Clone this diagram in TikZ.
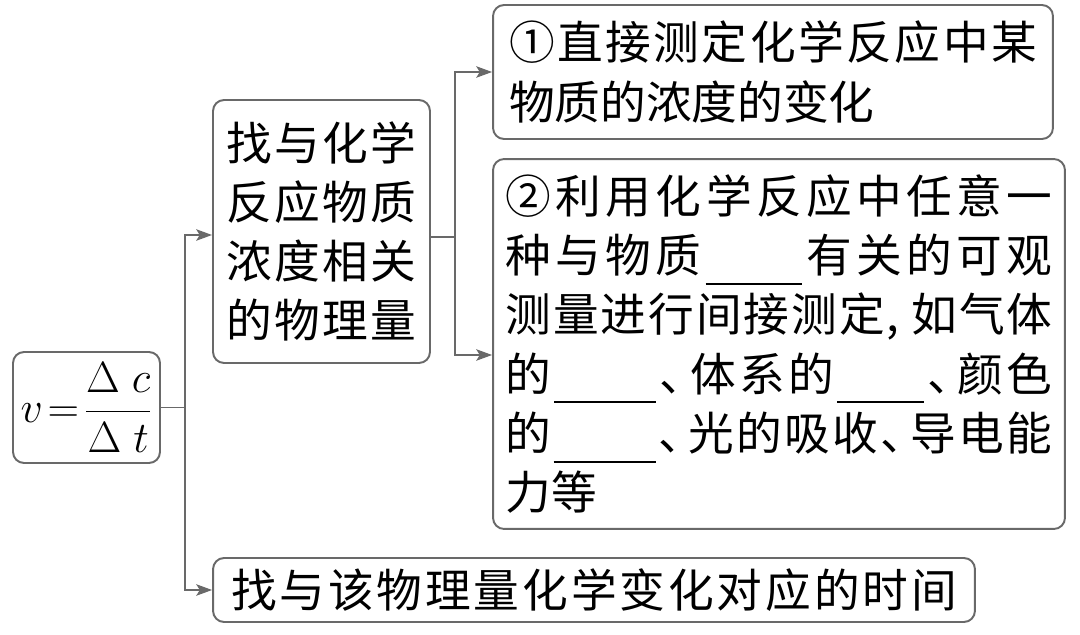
\documentclass[tikz,border=0pt]{standalone}
\usepackage{fontspec}
\usetikzlibrary{arrows.meta}
\newfontfamily\cjk{Noto Sans CJK SC}
\definecolor{linegray}{RGB}{105,105,105}
\newcommand{\blank}[1]{\rule[-0.27em]{#1}{1.2pt}}
\newcommand{\bA}{\blank{1.94cm}}
\newcommand{\bB}{\blank{2.04cm}}
\newcommand{\bC}{\blank{1.74cm}}
\newcommand{\dun}{\makebox[0.6em][l]{、}}
\newcommand{\cma}{\makebox[0.5em][l]{,}}
\def\spreadend{\spreadend}
\def\spreadloop#1{\ifx#1\spreadend\unskip\else#1\hfil\expandafter\spreadloop\fi}
\newcommand{\spreadline}[2]{\makebox[#1][s]{\spreadloop#2\spreadend}}

\begin{document}
\begin{tikzpicture}[x=0.02cm, y=-0.02cm,
    box/.style={draw=linegray, line width=1.1pt, rounded corners=0.22cm, inner sep=0pt},
    txt/.style={font=\cjk\fontsize{26}{33.7}\selectfont},
    link/.style={draw=linegray, line width=1.1pt},
    tip/.style={-{Stealth[length=9pt, width=6.5pt, inset=2pt]}}]
  \useasboundingbox (0,0) rectangle (1080,635);

  \node[box, minimum width=2.94cm, minimum height=2.22cm, font=\fontsize{23}{28}\selectfont] (rate) at (86.5, 407.5) {$\displaystyle v\!=\!\frac{\Delta\;c}{\Delta\;t}$};
  \node[box, txt, align=center, minimum width=4.34cm, minimum height=5.26cm] (find) at (321.5, 231.5) {\spreadline{3.8cm}{找与化学}\\\spreadline{3.8cm}{反应物质}\\\spreadline{3.8cm}{浓度相关}\\\spreadline{3.8cm}{的物理量}};
  \node[box, txt, align=left, minimum width=11.2cm, minimum height=2.68cm] (direct) at (773, 72) {\spreadline{10.56cm}{①直接测定化学反应中某}\\物质的浓度的变化};
  \node[box, txt, align=left, minimum width=11.44cm, minimum height=7.4cm] (indirect) at (779, 344) {\spreadline{10.94cm}{②利用化学反应中任意一}\\\spreadline{10.94cm}{种与物质\bA 有关的可观}\\\spreadline{10.94cm}{测量进行间接测定\cma 如气体}\\\spreadline{10.94cm}{的\bB\dun 体系的\bC\dun 颜色}\\\spreadline{10.94cm}{的\bB\dun 光的吸收\dun 导电能}\\力等};
  \node[box, txt, minimum width=15.24cm, minimum height=1.28cm] (time) at (594, 590) {\spreadline{14.52cm}{找与该物理量化学变化对应的时间}};

  \coordinate (split) at ([xshift=0.48cm]rate.east);
  \coordinate (fork) at ([xshift=0.48cm, yshift=-0.11cm]find.east);

  \draw[link] (rate.east) -- (split);
  \draw[link, tip] (split) |- ([yshift=-0.07cm]find.west);
  \draw[link, tip] (split) |- (time.west);
  \draw[link] ([yshift=-0.11cm]find.east) -- (fork);
  \draw[link, tip] (fork) |- (direct.west);
  \draw[link, tip] (fork) |- ([yshift=-0.22cm]indirect.west);
\end{tikzpicture}
\end{document}
